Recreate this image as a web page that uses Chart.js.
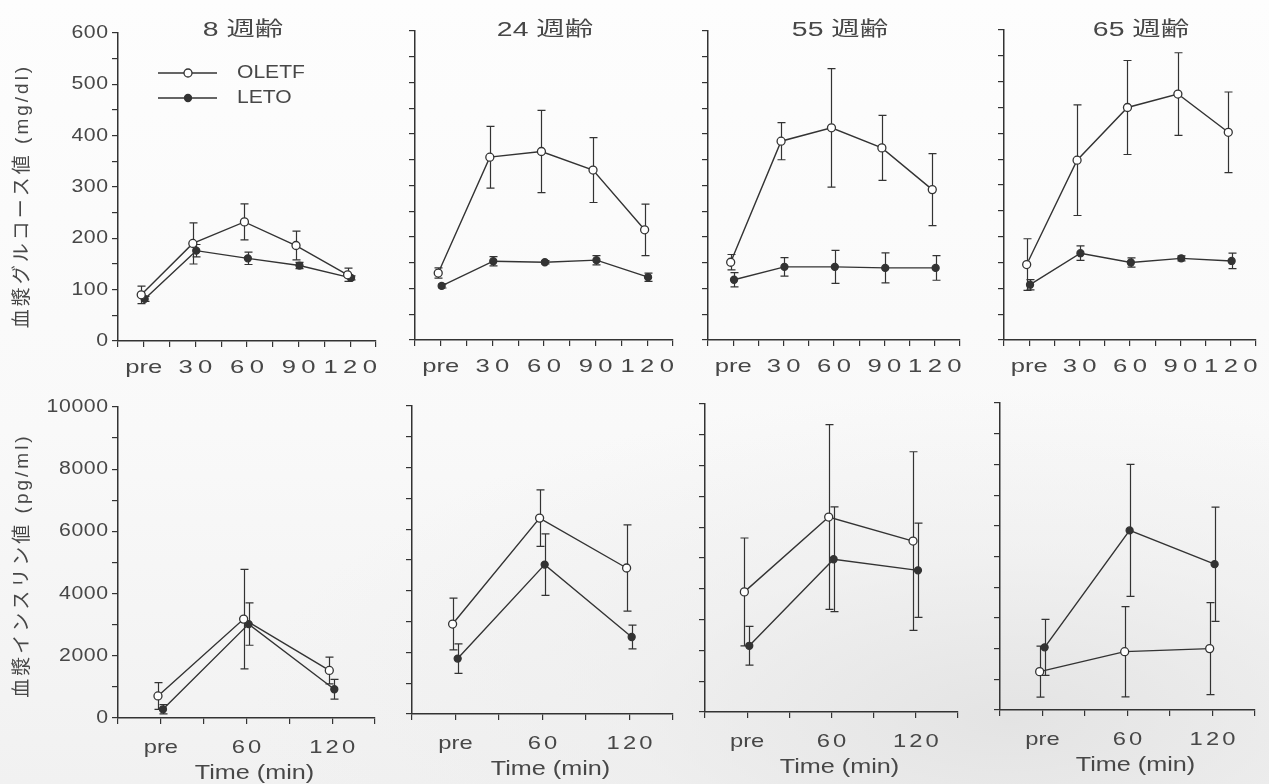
<!DOCTYPE html>
<html lang="ja">
<head>
<meta charset="utf-8">
<title>OLETF / LETO 糖負荷試験</title>
<script src="https://cdn.jsdelivr.net/npm/chart.js@4.4.1/dist/chart.umd.min.js"></script>
<style>
  html, body { margin: 0; padding: 0; }
  body {
    width: 1269px; height: 784px; overflow: hidden;
    background:
      radial-gradient(ellipse 760px 330px at 1010px 720px, rgba(226,226,226,0.9), rgba(236,236,236,0.55) 50%, rgba(248,248,248,0) 100%),
      linear-gradient(#fdfdfd, #f9f9f9 55%, #f1f1f1);
  }
  #board { position: relative; width: 1269px; height: 784px; }
  #board canvas { position: absolute; }
</style>
</head>
<body>
<div id="board"></div>
<script>
// ---- data -------------------------------------------------------------
// sampling times in minutes; 0 is the pre-load sample
const glucoseTimes = [0, 30, 60, 90, 120];
const insulinTimes = [0, 60, 120];
const glucoseTimeLabels = ['pre', '30', '60', '90', '120'];
const insulinTimeLabels = ['pre', '60', '120'];
const glucoseYLabels = [0, 100, 200, 300, 400, 500, 600];
const insulinYLabels = [0, 2000, 4000, 6000, 8000, 10000];
const ageLabels = ['8 週齢', '24 週齢', '55 週齢', '65 週齢'];
const seriesNames = ['OLETF', 'LETO'];
const glucoseAxisTitle = '血漿グルコース値 (mg/dl)';
const insulinAxisTitle = '血漿インスリン値 (pg/ml)';
const timeAxisTitle = 'Time (min)';

// plasma glucose (mg/dl): mean and SE, one row per age
const glucoseOletf   = [[90, 190, 232, 186, 129], [130, 355, 366, 330, 214], [151, 386, 412, 373, 292], [146, 348, 450, 476, 402]];
const glucoseOletfSE = [[17, 40, 35, 28, 13],     [10, 60, 80, 63, 50],      [15, 36, 115, 63, 70],     [50, 107, 91, 80, 78]];
const glucoseLeto    = [[82, 176, 161, 147, 123], [105, 153, 151, 155, 122], [117, 142, 142, 140, 140], [107, 168, 150, 158, 153]];
const glucoseLetoSE  = [[5, 12, 12, 6, 4],        [4, 9, 3, 9, 8],           [14, 18, 32, 29, 24],      [10, 14, 9, 5, 15]];

// plasma insulin (pg/ml): mean and SE, one row per age
const insulinOletf   = [[710, 3180, 1530], [2920, 6360, 4740], [3900, 6330, 5550], [1250, 1900, 2000]];
const insulinOletfSE = [[430, 1600, 430],  [840, 920, 1400],   [1750, 3000, 2900], [830, 1470, 1500]];
const insulinLeto    = [[280, 3020, 925],  [1800, 4850, 2500], [2150, 4960, 4600], [2040, 5850, 4750]];
const insulinLetoSE  = [[150, 680, 320],   [480, 1000, 385],   [630, 1700, 1530],  [910, 2150, 1860]];

// ---- layout (page pixels) ---------------------------------------------
const FONT = '"Liberation Sans", Arial, "Noto Sans CJK JP", sans-serif';
const INK = '#333333';
const TEXT = '#474747';

const rows = [
  { canvasTop: 0,   left: [118, 415, 708, 1004], right: [376, 673, 960, 1256], top: [33, 31, 31, 30],     bottom: [341, 340, 340, 340], xHeight: 40 },
  { canvasTop: 380, left: [118, 412, 705, 1000], right: [375, 673, 958, 1255], top: [407, 406, 404, 403], bottom: [718, 714, 712, 710], xHeight: 70 }
];
const titleCenters = [243, 545, 840, 1141];
const TITLE_Y = 30;

// ---- a linear scale whose text is drawn wide, like the printed figure --
class WideLinearScale extends Chart.LinearScale {
  drawLabels(chartArea) {
    const t = this.options.ticks;
    if (!t.display) return;
    const ctx = this.ctx;
    const sx = t.stretch || 1;
    for (const item of this.getLabelItems(chartArea)) {
      if (item.label === '' || item.label == null) continue;
      const o = item.options;
      const s = /^\d+$/.test(item.label) ? (t.digitSpacing || 0) : (t.textSpacing || 0);
      ctx.save();
      ctx.translate(o.translation[0] + (t.shiftX || 0), o.translation[1]);
      ctx.scale(sx, 1);
      ctx.font = item.font.string;
      ctx.fillStyle = o.color;
      ctx.textAlign = o.textAlign;
      ctx.textBaseline = o.textBaseline;
      ctx.letterSpacing = s + 'px';
      const shift = o.textAlign === 'center' ? s / 2 : (o.textAlign === 'right' ? s : 0);
      ctx.fillText(item.label, shift, item.textOffset);
      ctx.restore();
    }
  }
  drawTitle() {
    const t = this.options.title;
    if (!t.display) return;
    const ctx = this.ctx;
    const sx = t.stretch || 1;
    const cx = (this.left + this.right) / 2;
    ctx.save();
    ctx.translate(cx + (t.shiftX || 0), t.shiftY || 0);
    ctx.scale(sx, 1);
    ctx.translate(-cx, 0);
    ctx.letterSpacing = (t.spacing || 0) + 'px';
    super.drawTitle();
    ctx.restore();
  }
}
WideLinearScale.id = 'wideLinear';
Chart.register(WideLinearScale);

function wideText(ctx, text, x, y, font, sx, align) {
  ctx.save();
  ctx.translate(x, y);
  ctx.scale(sx, 1);
  ctx.font = font;
  ctx.fillStyle = TEXT;
  ctx.textAlign = align;
  ctx.textBaseline = 'middle';
  ctx.fillText(text, 0, 0);
  ctx.restore();
}

// mean ± SE whiskers with caps
const errorBars = {
  id: 'errorBars',
  beforeDatasetsDraw(chart) {
    const ctx = chart.ctx;
    const ys = chart.scales.y;
    ctx.save();
    ctx.strokeStyle = INK;
    ctx.lineWidth = 1.2;
    chart.data.datasets.forEach((ds, i) => {
      const meta = chart.getDatasetMeta(i);
      meta.data.forEach((pt, j) => {
        const m = ds.data[j].y, e = ds.errors[j];
        const x = Math.round(pt.x) + 0.5;
        const y1 = ys.getPixelForValue(m + e), y2 = ys.getPixelForValue(m - e);
        ctx.beginPath();
        ctx.moveTo(x, y1); ctx.lineTo(x, y2);
        ctx.moveTo(x - 4, y1); ctx.lineTo(x + 4, y1);
        ctx.moveTo(x - 4, y2); ctx.lineTo(x + 4, y2);
        ctx.stroke();
      });
    });
    ctx.restore();
  }
};

// panel heading and the legend of the first panel
const panelText = {
  id: 'panelText',
  afterDraw(chart, args, opts) {
    const ctx = chart.ctx;
    if (opts.heading) {
      wideText(ctx, opts.heading, opts.headingX, opts.headingY, '20px ' + FONT, 1.42, 'center');
    }
    if (opts.legend) {
      const rowsY = [opts.legendY, opts.legendY + 25];
      chart.data.datasets.forEach((ds, i) => {
        const y = rowsY[i];
        ctx.save();
        ctx.strokeStyle = INK;
        ctx.lineWidth = 1.4;
        ctx.beginPath();
        ctx.moveTo(opts.legendX, y);
        ctx.lineTo(opts.legendX + 59, y);
        ctx.stroke();
        ctx.beginPath();
        ctx.arc(opts.legendX + 30, y, ds.pointRadius, 0, Math.PI * 2);
        ctx.fillStyle = ds.pointBackgroundColor;
        ctx.fill();
        ctx.lineWidth = ds.pointBorderWidth;
        ctx.strokeStyle = ds.pointBorderColor;
        ctx.stroke();
        ctx.restore();
        wideText(ctx, ds.label, opts.legendX + 79, y, '18px ' + FONT, 1.17, 'left');
      });
    }
  }
};

function series(name, times, means, errs, shift, open) {
  return {
    label: name,
    data: times.map((t, j) => ({ x: t + shift, y: means[j] })),
    errors: errs,
    borderColor: INK,
    borderWidth: 1.4,
    pointRadius: open ? 4 : 3.5,
    pointBackgroundColor: open ? '#ffffff' : INK,
    pointBorderColor: INK,
    pointBorderWidth: 1.3,
    tension: 0,
    clip: false
  };
}

function makePanel(rowIndex, col) {
  const row = rows[rowIndex];
  const isGlucose = rowIndex === 0;
  const L = row.left[col], R = row.right[col], T = row.top[col], B = row.bottom[col];
  const yw = col === 0 ? L : 40;
  const canvasLeft = L - yw;
  const width = yw + (R - L) + 16;
  const height = (B - row.canvasTop) + row.xHeight;

  const canvas = document.createElement('canvas');
  canvas.width = width;
  canvas.height = height;
  canvas.style.left = canvasLeft + 'px';
  canvas.style.top = row.canvasTop + 'px';
  canvas.style.width = width + 'px';
  canvas.style.height = height + 'px';
  document.getElementById('board').appendChild(canvas);

  const times = isGlucose ? glucoseTimes : insulinTimes;
  const timeLabels = isGlucose ? glucoseTimeLabels : insulinTimeLabels;
  const yLabels = isGlucose ? glucoseYLabels : insulinYLabels;
  const datasets = isGlucose
    ? [series(seriesNames[0], times, glucoseOletf[col], glucoseOletfSE[col], -1.5, true),
       series(seriesNames[1], times, glucoseLeto[col], glucoseLetoSE[col], 0.5, false)]
    : [series(seriesNames[0], times, insulinOletf[col], insulinOletfSE[col], -2, true),
       series(seriesNames[1], times, insulinLeto[col], insulinLetoSE[col], 1.5, false)];

  const grid = { display: true, drawOnChartArea: false, drawTicks: true, tickLength: 6, color: INK, lineWidth: 1.2 };
  const border = { display: true, color: INK, width: 1.5 };

  new Chart(canvas, {
    type: 'line',
    data: { datasets },
    plugins: [errorBars, panelText],
    options: {
      responsive: false,
      animation: false,
      devicePixelRatio: 1,
      events: [],
      layout: { padding: { top: T - row.canvasTop, right: 16, bottom: 0, left: 0 } },
      scales: {
        x: {
          type: 'wideLinear',
          min: isGlucose ? -15 : -30,
          max: isGlucose ? 135 : 150,
          grid, border,
          ticks: {
            stepSize: isGlucose ? 15 : 30,
            autoSkip: false, maxRotation: 0,
            color: TEXT,
            font: { family: FONT, size: 19 },
            padding: isGlucose ? 9.5 : 12.5,
            stretch: isGlucose ? 1.35 : 1.25,
            digitSpacing: isGlucose ? 4 : 2.5,
            textSpacing: 0,
            callback: (v) => { const k = times.indexOf(v); return k >= 0 ? timeLabels[k] : ''; }
          },
          title: {
            display: !isGlucose,
            text: timeAxisTitle,
            color: TEXT,
            font: { family: FONT, size: 21 },
            padding: { top: 0, bottom: 2 },
            stretch: 1.2,
            shiftX: 8
          },
          afterFit: (s) => { s.height = row.xHeight; }
        },
        y: {
          type: 'wideLinear',
          min: 0,
          max: isGlucose ? 600 : 10000,
          grid, border,
          ticks: {
            stepSize: isGlucose ? 50 : 1000,
            autoSkip: false,
            color: TEXT,
            font: { family: FONT, size: 18 },
            padding: 4,
            stretch: 1.18,
            digitSpacing: 0.5,
            callback: (v) => (col === 0 && yLabels.includes(v)) ? String(v) : ''
          },
          title: {
            display: col === 0,
            text: isGlucose ? glucoseAxisTitle : insulinAxisTitle,
            color: TEXT,
            font: { family: FONT, size: 19 },
            padding: { top: 11, bottom: 0 },
            spacing: 3,
            shiftY: isGlucose ? 9 : 3
          },
          afterFit: (s) => { s.width = yw; }
        }
      },
      plugins: {
        legend: { display: false },
        tooltip: { enabled: false },
        title: { display: false },
        panelText: {
          heading: isGlucose ? ageLabels[col] : '',
          headingX: titleCenters[col] - canvasLeft,
          headingY: TITLE_Y - row.canvasTop,
          legend: isGlucose && col === 0,
          legendX: 158 - canvasLeft,
          legendY: 73 - row.canvasTop
        }
      }
    }
  });
}

for (let r = 0; r < 2; r++) {
  for (let c = 0; c < 4; c++) makePanel(r, c);
}
</script>
</body>
</html>
